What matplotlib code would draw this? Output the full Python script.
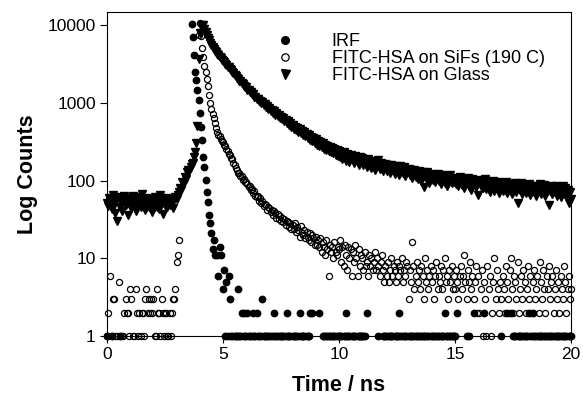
import numpy as np
import matplotlib
matplotlib.use('Agg')
import matplotlib.pyplot as plt
from matplotlib.ticker import NullLocator

# time-resolved decay, one channel every 0.05 ns from 0 to 20 ns
dt = 0.05

# counts per channel, one row per ns (0 = empty channel, not drawn on log axis)
irf = [
    1, 0, 0, 0, 1, 0, 0, 0, 0, 0, 0, 1, 0, 0, 0, 0, 0, 0, 0, 0,
    0, 0, 0, 0, 0, 0, 0, 0, 0, 0, 0, 0, 0, 0, 0, 0, 0, 0, 0, 0,
    0, 0, 0, 0, 0, 0, 0, 0, 0, 0, 0, 0, 0, 0, 0, 0, 0, 0, 0, 0,
    0, 0, 0, 0, 0, 0, 0, 0, 0, 0, 0, 0, 0, 10200, 7000, 4100, 2500, 1970, 1450, 1100,
    730, 490, 330, 200, 150, 103, 72, 53, 36, 28, 21, 13, 17, 11, 0, 11, 6, 14, 11, 0,
    4, 7, 1, 5, 1, 6, 3, 1, 1, 0, 1, 1, 1, 4, 1, 1, 2, 1, 2, 1,
    1, 2, 1, 1, 0, 1, 2, 1, 1, 2, 1, 1, 0, 1, 3, 1, 1, 1, 0, 1,
    1, 1, 0, 1, 2, 1, 1, 1, 0, 1, 1, 1, 1, 0, 1, 2, 1, 1, 1, 0,
    1, 1, 1, 1, 0, 1, 2, 1, 1, 1, 1, 0, 1, 1, 1, 2, 0, 2, 0, 0,
    0, 0, 0, 2, 0, 0, 1, 1, 0, 1, 1, 1, 1, 0, 1, 1, 1, 1, 0, 1,
    1, 1, 1, 0, 1, 1, 2, 1, 1, 1, 0, 1, 1, 1, 1, 0, 1, 1, 1, 1,
    1, 1, 1, 0, 2, 0, 0, 0, 0, 0, 0, 0, 0, 0, 1, 0, 0, 0, 1, 1,
    1, 1, 0, 1, 1, 1, 1, 0, 1, 1, 1, 1, 2, 1, 1, 0, 1, 1, 1, 0,
    1, 1, 1, 1, 0, 1, 1, 1, 1, 0, 1, 1, 1, 1, 1, 0, 1, 1, 0, 1,
    1, 1, 0, 1, 1, 1, 1, 0, 1, 1, 1, 2, 1, 1, 0, 1, 1, 1, 1, 1,
    1, 0, 2, 0, 0, 0, 0, 0, 0, 0, 1, 0, 1, 0, 0, 0, 2, 0, 0, 0,
    0, 0, 0, 0, 0, 2, 0, 0, 0, 0, 0, 0, 0, 0, 0, 0, 0, 0, 0, 0,
    1, 0, 0, 0, 0, 2, 0, 0, 2, 0, 1, 1, 1, 0, 1, 1, 1, 1, 0, 1,
    1, 1, 1, 0, 2, 1, 1, 2, 1, 1, 0, 1, 1, 1, 1, 1, 0, 1, 1, 1,
    1, 0, 1, 1, 1, 1, 0, 1, 1, 1, 1, 1, 0, 1, 1, 1, 1, 0, 1, 1, 1,
]

sifs = [
    1, 2, 1, 6, 1, 3, 3, 1, 0, 1, 5, 1, 0, 1, 1, 2, 3, 2, 2, 1,
    4, 3, 1, 1, 0, 4, 2, 1, 2, 1, 2, 2, 1, 3, 4, 2, 3, 2, 3, 2,
    3, 1, 1, 4, 2, 2, 1, 3, 2, 1, 2, 2, 1, 1, 2, 1, 2, 3, 3, 4,
    9, 11, 17, 0, 0, 0, 0, 0, 0, 0, 0, 0, 0, 0, 0, 0, 0, 0, 0, 7400,
    10500, 7200, 5000, 3900, 3000, 2500, 2000, 1650, 1250, 980, 830, 720, 630, 545, 480, 420, 390, 370, 345, 325,
    312, 288, 275, 255, 243, 222, 214, 192, 188, 168, 160, 146, 138, 126, 124, 115, 113, 103, 104, 96,
    95, 91, 83, 84, 76, 78, 69, 73, 64, 61, 63, 55, 59, 51, 55, 47, 50, 48, 42, 45,
    44, 39, 42, 36, 40, 38, 33, 37, 32, 35, 30, 33, 29, 32, 27, 30, 29, 25, 28, 24,
    27, 24, 28, 22, 25, 23, 19, 26, 21, 20, 23, 18, 22, 19, 17, 21, 16, 20, 18, 15,
    19, 15, 17, 14, 18, 12, 16, 14, 11, 17, 13, 6, 15, 12, 14, 10, 16, 12, 11, 14,
    13, 17, 9, 14, 8, 15, 11, 7, 14, 10, 13, 6, 12, 9, 15, 10, 6, 13, 8, 11,
    10, 7, 12, 8, 9, 6, 11, 8, 10, 7, 9, 12, 7, 10, 8, 6, 9, 11, 7, 5,
    8, 6, 9, 5, 7, 10, 6, 8, 7, 5, 9, 6, 8, 7, 10, 5, 7, 6, 9, 8,
    3, 7, 5, 16, 8, 4, 6, 9, 5, 7, 4, 8, 6, 3, 10, 5, 7, 4, 6, 8,
    5, 7, 3, 6, 9, 4, 6, 5, 8, 4, 7, 10, 5, 6, 3, 7, 5, 8, 4, 6,
    4, 7, 5, 3, 6, 8, 4, 6, 11, 5, 3, 7, 5, 9, 4, 6, 3, 5, 8, 2,
    6, 2, 4, 7, 1, 5, 3, 1, 8, 4, 6, 1, 2, 5, 10, 3, 7, 4, 2, 5,
    3, 6, 4, 2, 8, 5, 3, 7, 10, 4, 2, 6, 5, 3, 9, 2, 4, 6, 3, 7,
    5, 2, 4, 8, 3, 6, 2, 5, 7, 3, 4, 6, 2, 9, 5, 3, 7, 4, 2, 6,
    4, 8, 3, 5, 6, 2, 4, 7, 3, 5, 2, 6, 4, 3, 8, 5, 2, 4, 6, 3, 4,
]

glass = [
    52, 47, 60, 55, 43, 66, 50, 38, 58, 30, 62, 45, 53, 41, 57, 64, 48, 54, 36, 59,
    51, 44, 63, 56, 47, 40, 61, 52, 58, 46, 68, 49, 55, 42, 60, 50, 45, 57, 53, 39,
    48, 62, 54, 46, 58, 43, 65, 51, 37, 56, 49, 60, 45, 53, 48, 57, 52, 44, 58, 62,
    57, 66, 72, 80, 76, 96, 92, 110, 104, 128, 137, 132, 150, 162, 170, 200, 234, 300, 500, 3700,
    7800, 9600, 10100, 9900, 9000, 8100, 7500, 6900, 6450, 5950, 5600, 5200, 4980, 4700, 4480, 4230, 4080, 3830, 3720, 3540,
    3420, 3360, 3150, 3090, 2900, 2860, 2680, 2620, 2450, 2410, 2260, 2230, 2080, 2050, 1920, 1890, 1770, 1750, 1640, 1610,
    1580, 1470, 1460, 1370, 1380, 1280, 1290, 1190, 1200, 1110, 1120, 1050, 1060, 990, 1010, 940, 950, 890, 900, 840,
    860, 785, 810, 745, 775, 705, 735, 670, 705, 635, 665, 610, 635, 575, 605, 545, 575, 520, 545, 495,
    520, 465, 495, 445, 475, 425, 460, 405, 435, 390, 420, 370, 400, 350, 385, 335, 365, 320, 350, 305,
    338, 290, 322, 280, 310, 266, 300, 258, 290, 250, 280, 240, 272, 232, 262, 224, 255, 216, 244, 208,
    238, 200, 226, 188, 231, 205, 180, 219, 196, 172, 214, 187, 203, 168, 209, 182, 193, 160, 201, 171,
    192, 158, 181, 166, 150, 188, 160, 173, 145, 179, 163, 138, 171, 155, 182, 142, 166, 150, 131, 160,
    165, 134, 156, 142, 125, 160, 138, 149, 121, 155, 131, 146, 118, 152, 137, 126, 147, 115, 141, 130,
    140, 117, 135, 108, 128, 137, 112, 124, 104, 133, 119, 98, 127, 83, 121, 108, 130, 100, 93, 118,
    120, 101, 115, 95, 110, 122, 98, 107, 90, 116, 104, 94, 112, 86, 109, 99, 117, 92, 105, 96,
    108, 90, 103, 84, 111, 95, 88, 106, 81, 100, 93, 109, 85, 98, 76, 104, 91, 97, 82, 101,
    65, 96, 84, 100, 79, 92, 104, 77, 89, 95, 72, 93, 86, 98, 74, 90, 81, 97, 70, 88,
    91, 73, 86, 79, 95, 70, 84, 76, 90, 68, 85, 78, 93, 71, 51, 83, 75, 92, 67, 81,
    87, 69, 82, 74, 90, 66, 79, 86, 71, 83, 63, 84, 75, 89, 68, 80, 72, 88, 64, 78,
    83, 48, 74, 86, 67, 79, 71, 84, 64, 77, 82, 62, 73, 85, 68, 79, 65, 76, 52, 71, 58,
]

labels = ['IRF', 'FITC-HSA on SiFs (190 C)', 'FITC-HSA on Glass']
x_ticks = [0, 5, 10, 15, 20]
y_ticks = [1, 10, 100, 1000, 10000]
y_tick_labels = ['1', '10', '100', '1000', '10000']


def counts(a):
    a = np.array(a, dtype=float)
    a[a <= 0] = np.nan
    return a


t = np.arange(len(irf)) * dt

plt.rcParams['font.family'] = ['Liberation Sans', 'DejaVu Sans']

fig = plt.figure(figsize=(5.83, 4.04), dpi=100)
ax = fig.add_axes([0.1835, 0.1683, 0.7959, 0.802])

ax.plot(t, counts(irf), 'o', ms=4.6, color='k', ls='none', clip_on=False, label=labels[0], zorder=3)
ax.plot(t, counts(sifs), 'o', ms=4.4, mfc='none', mec='k', mew=0.9, ls='none', clip_on=False, label=labels[1], zorder=3)
ax.plot(t, counts(glass), 'v', ms=5.4, color='k', ls='none', clip_on=False, label=labels[2], zorder=3)

ax.set_yscale('log')
ax.set_xlim(0, 20)
ax.set_ylim(1, 14700)
ax.set_xticks(x_ticks)
ax.set_yticks(y_ticks)
ax.set_yticklabels(y_tick_labels)
ax.yaxis.set_minor_locator(NullLocator())
ax.tick_params(direction='out', length=5, width=0.8, labelsize=12.5, pad=3)
for s in ax.spines.values():
    s.set_linewidth(0.8)

ax.set_xlabel('Time / ns', fontsize=15.5, fontweight='bold', labelpad=9)
ax.set_ylabel('Log Counts', fontsize=15.5, fontweight='bold', labelpad=7)

ax.legend(loc='upper left', bbox_to_anchor=(0.364, 0.935), frameon=False, fontsize=13,
          handlelength=1.0, handletextpad=2.1, labelspacing=0.0, borderpad=0,
          borderaxespad=0, numpoints=1, markerscale=1.2)

fig.savefig('out.png', dpi=100)
